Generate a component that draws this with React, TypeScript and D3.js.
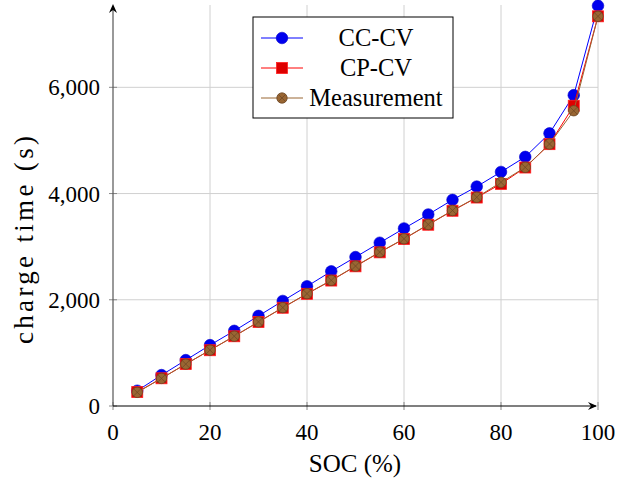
import React from "react";
import * as d3 from "d3";

// SOC steps (%)
const soc = [5, 10, 15, 20, 25, 30, 35, 40, 45, 50, 55, 60, 65, 70, 75, 80, 85, 90, 95, 100];
// charge time (s)
const ccCv = [288, 582, 864, 1146, 1415, 1696, 1978, 2254, 2535, 2804, 3074, 3343, 3606, 3881, 4131, 4407, 4690, 5133, 5853, 7536];
const cpCv = [262, 522, 789, 1050, 1313, 1582, 1850, 2112, 2362, 2630, 2893, 3145, 3413, 3676, 3925, 4182, 4490, 4930, 5653, 7337];
const measurement = [257, 520, 789, 1052, 1315, 1584, 1853, 2116, 2366, 2635, 2898, 3149, 3418, 3681, 3930, 4212, 4494, 4933, 5559, 7337];

const xTicks = [0, 20, 40, 60, 80, 100];
const yTicks = [0, 2000, 4000, 6000];
const legendNames = ["CC-CV", "CP-CV", "Measurement"];

const W = 639;
const H = 483;
const FONT = "'Liberation Serif', 'Times New Roman', serif";

export default function App() {
  const x = d3.scaleLinear().domain([0, 100]).range([113, 598]);
  const y = d3.scaleLinear().domain([0, 7550]).range([406, 5]);
  const fmt = d3.format(",");

  const line = d3
    .line<[number, number]>()
    .x((d) => x(d[0]))
    .y((d) => y(d[1]));

  const pts = (vals: number[]) => soc.map((s, i) => [s, vals[i]] as [number, number]);

  const circle = (cx: number, cy: number, key: any) => (
    <circle key={key} cx={cx} cy={cy} r={5.8} fill="#0000ee" stroke="#0000cc" strokeWidth={0.6} />
  );
  const square = (cx: number, cy: number, key: any) => (
    <rect key={key} x={cx - 5.5} y={cy - 5.5} width={11} height={11} fill="#dd0000" stroke="#ff2020" strokeWidth={0.8} />
  );
  const otimes = (cx: number, cy: number, key: any) => {
    const r = 5.2;
    const k = r * Math.SQRT1_2;
    return (
      <g key={key}>
        <circle cx={cx} cy={cy} r={r} fill="#996633" stroke="#6b4522" strokeWidth={0.8} />
        <path
          d={`M${cx - k},${cy - k}L${cx + k},${cy + k}M${cx - k},${cy + k}L${cx + k},${cy - k}`}
          stroke="#6b4522"
          strokeWidth={0.7}
        />
      </g>
    );
  };

  const series = [
    { vals: ccCv, color: "#0000ff", mark: circle },
    { vals: cpCv, color: "#ff0000", mark: square },
    { vals: measurement, color: "#996633", mark: otimes },
  ];

  return (
    <svg width={W} height={H} style={{ position: "absolute", left: 0, top: 0, background: "#fff" }} fontFamily={FONT}>
      {/* grid */}
      {xTicks.filter((t) => t > 0).map((t) => (
        <line key={"gx" + t} x1={x(t)} x2={x(t)} y1={406} y2={5} stroke="#d0d0d0" strokeWidth={1} />
      ))}
      {yTicks.filter((t) => t > 0).map((t) => (
        <line key={"gy" + t} x1={113} x2={598} y1={y(t)} y2={y(t)} stroke="#d0d0d0" strokeWidth={1} />
      ))}

      {/* ticks */}
      {xTicks.map((t) => (
        <line key={"tx" + t} x1={x(t)} x2={x(t)} y1={402} y2={410} stroke="#888" strokeWidth={1} />
      ))}
      {yTicks.map((t) => (
        <line key={"ty" + t} x1={109} x2={117} y1={y(t)} y2={y(t)} stroke="#888" strokeWidth={1} />
      ))}

      {/* series */}
      {series.map((s, i) => (
        <g key={"s" + i}>
          <path d={line(pts(s.vals)) || ""} fill="none" stroke={s.color} strokeWidth={1} />
          {pts(s.vals).map((p, j) => s.mark(x(p[0]), y(p[1]), j))}
        </g>
      ))}

      {/* axes */}
      <line x1={113} x2={113} y1={406} y2={6} stroke="#555" strokeWidth={1.2} />
      <path d="M109,13 L113,4 L117,13 L113,10 Z" fill="#000" />
      <line x1={113} x2={596} y1={406} y2={406} stroke="#000" strokeWidth={1.2} />
      <path d="M588,402 L597,406 L588,410 L591,406 Z" fill="#000" />

      {/* tick labels */}
      {xTicks.map((t) => (
        <text key={"lx" + t} x={x(t)} y={440} textAnchor="middle" fontSize={23}>
          {t}
        </text>
      ))}
      {yTicks.map((t) => (
        <text key={"ly" + t} x={100} y={y(t) + 8} textAnchor="end" fontSize={23}>
          {fmt(t)}
        </text>
      ))}

      {/* axis labels */}
      <text x={355} y={472} textAnchor="middle" fontSize={25}>
        SOC (%)
      </text>
      <text
        transform="translate(33,240) rotate(-90)"
        textAnchor="middle"
        fontSize={27}
        textLength={208}
        lengthAdjust="spacing"
      >
        charge time (s)
      </text>

      {/* legend */}
      <rect x={253} y={17} width={200} height={101} fill="#fff" stroke="#000" strokeWidth={1} />
      {legendNames.map((name, i) => {
        const ly = 38 + i * 30;
        return (
          <g key={"lg" + i}>
            <line x1={261} x2={303} y1={ly} y2={ly} stroke={series[i].color} strokeWidth={1} />
            {series[i].mark(282, ly, "m")}
            <text x={376} y={ly + 8} textAnchor="middle" fontSize={24.5}>
              {name}
            </text>
          </g>
        );
      })}
    </svg>
  );
}
